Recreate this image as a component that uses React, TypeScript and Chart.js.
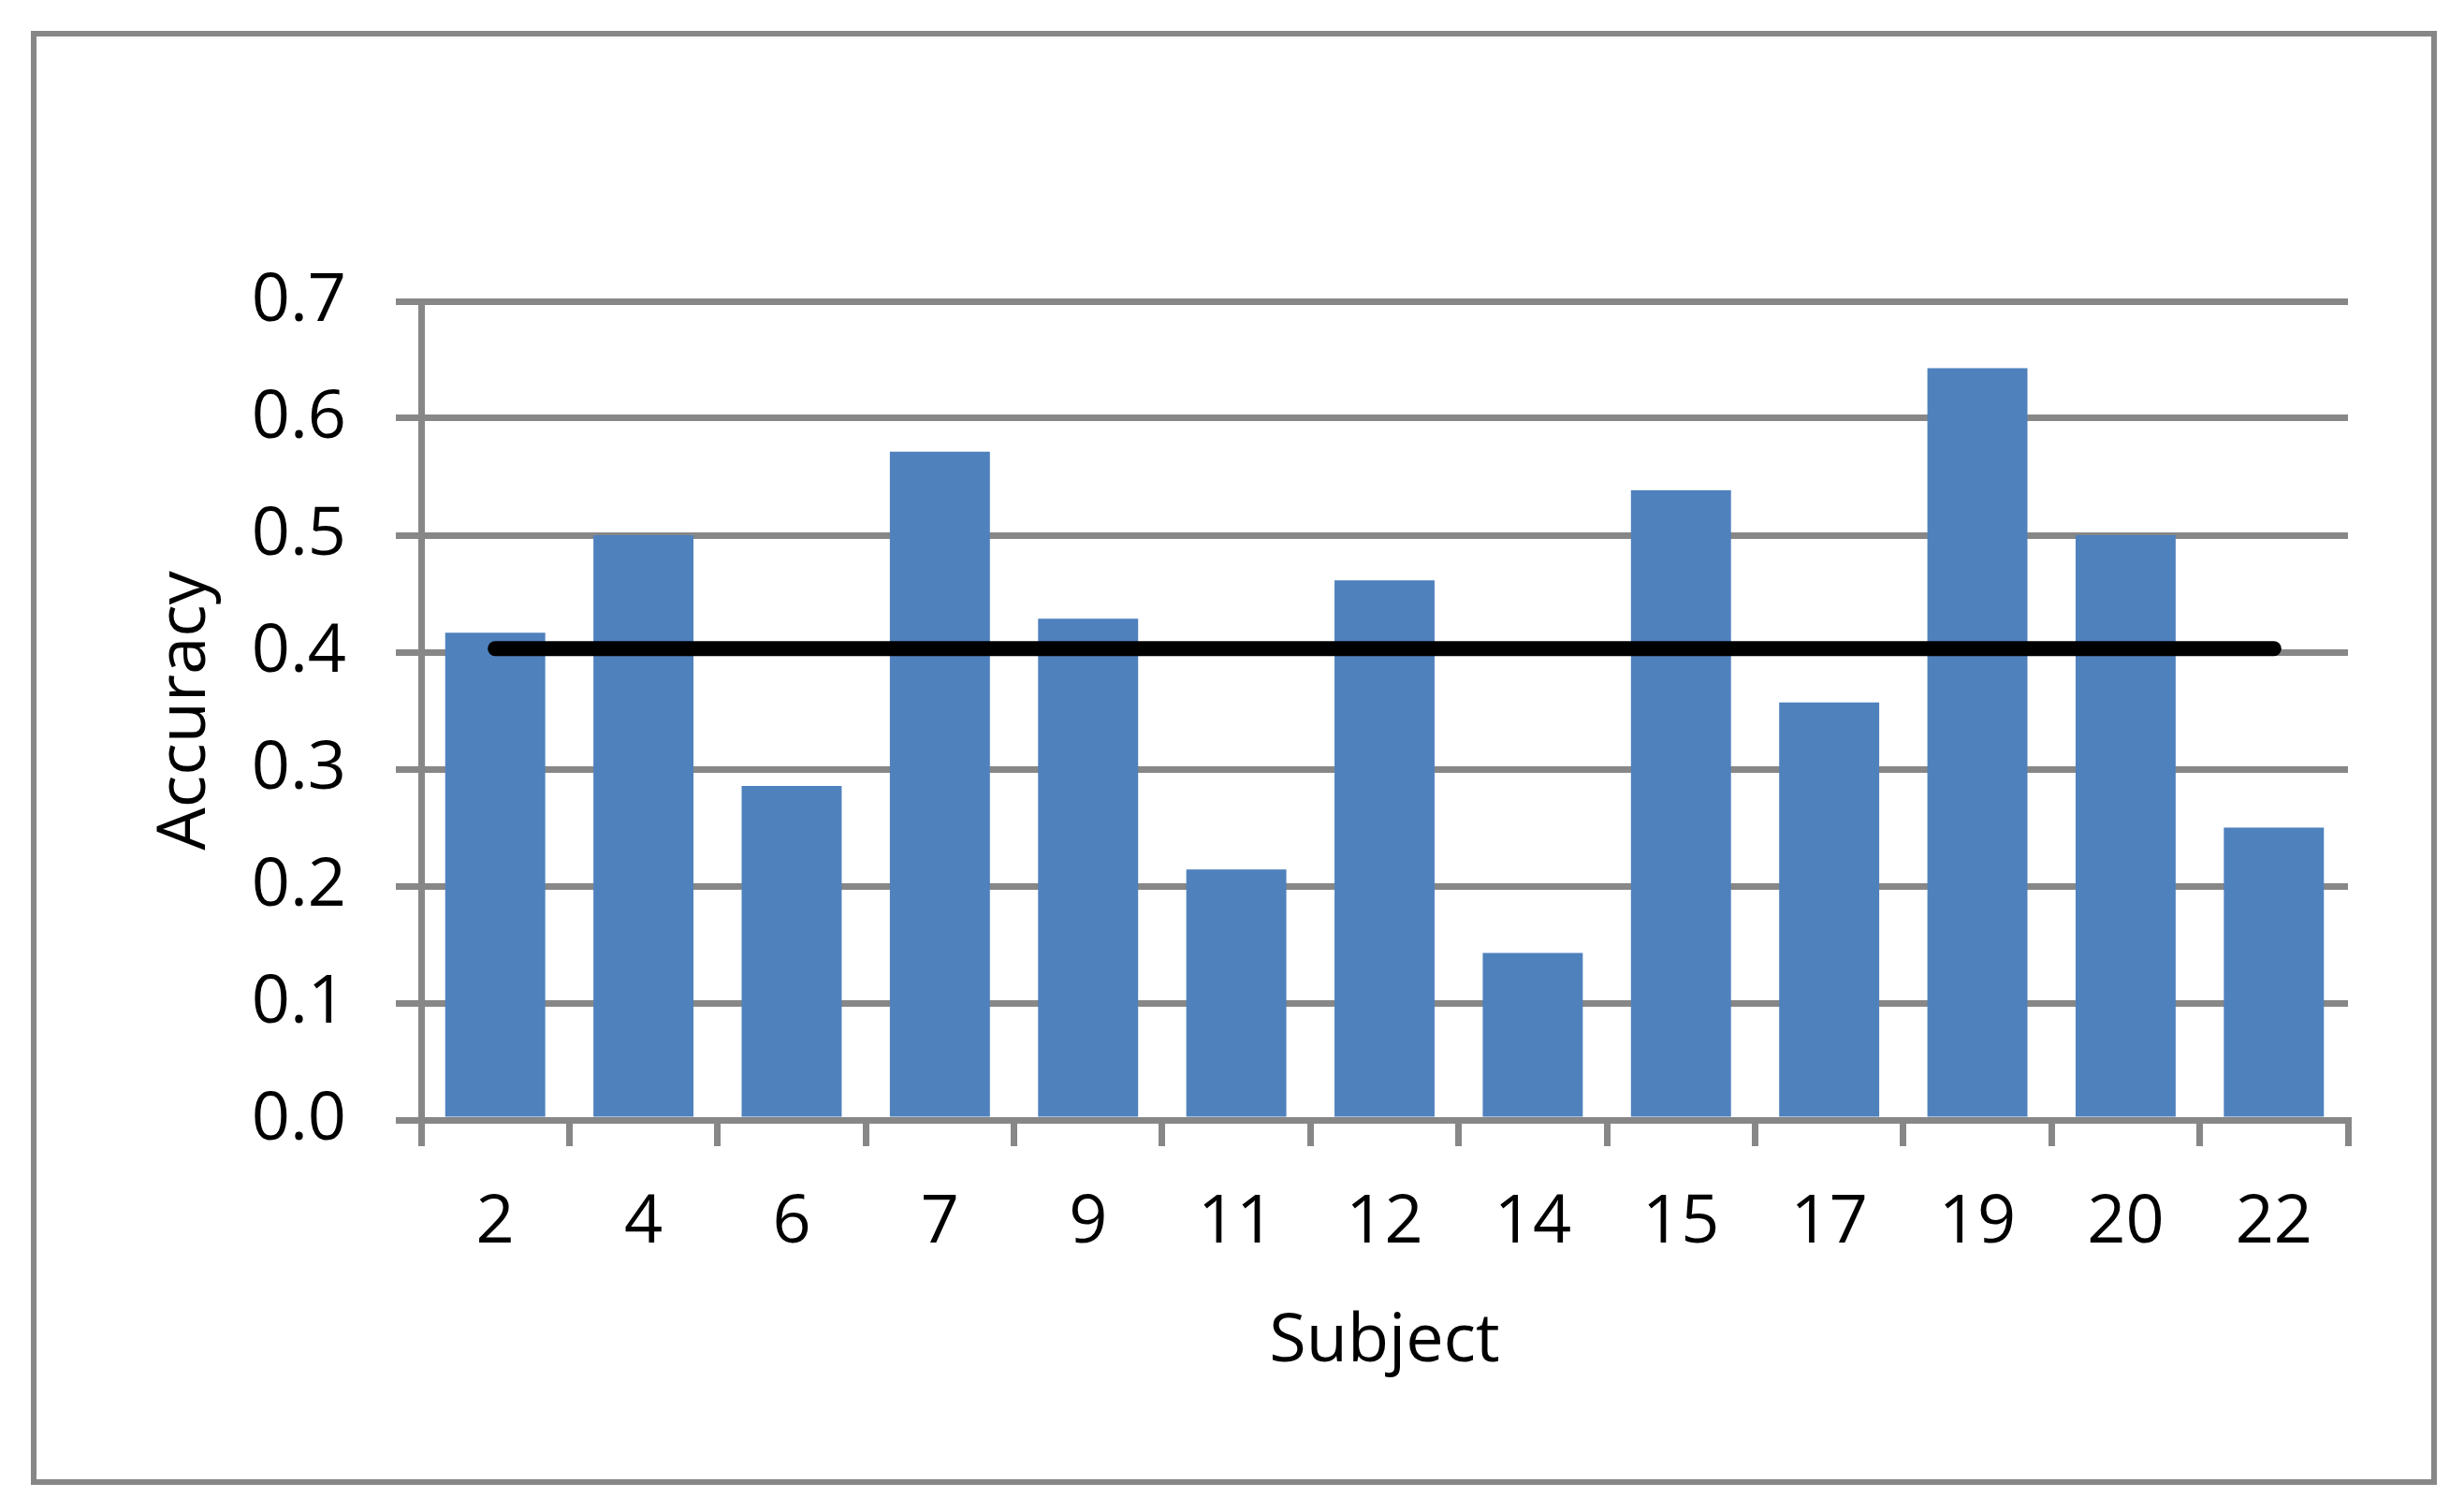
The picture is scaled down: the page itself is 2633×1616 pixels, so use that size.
import React, { useEffect, useRef } from "react";
import { Chart, registerables } from "chart.js";

Chart.register(...registerables);

const subjects = ["2", "4", "6", "7", "9", "11", "12", "14", "15", "17", "19", "20", "22"];
const accuracy = [0.4167, 0.5, 0.2857, 0.5714, 0.4286, 0.2143, 0.4615, 0.1429, 0.5385, 0.357, 0.6429, 0.5, 0.25];
const meanLine = [0.403, 0.403, 0.403, 0.403, 0.403, 0.403, 0.403, 0.403, 0.403, 0.403, 0.403, 0.403, 0.403];

const W = 2633;
const H = 1616;
const GRAY = "#878787";
const FONT = "'Open Sans'";

export default function App() {
  const ref = useRef<HTMLCanvasElement | null>(null);

  useEffect(() => {
    if (!ref.current) return;
    const chart = new Chart(ref.current, {
      type: "bar",
      data: {
        labels: subjects,
        datasets: [
          {
            type: "line",
            label: "Mean",
            data: meanLine,
            borderColor: "#000000",
            borderWidth: 16,
            borderCapStyle: "round",
            pointRadius: 0,
            fill: false,
            order: 0,
          } as any,
          {
            type: "bar",
            label: "Accuracy",
            data: accuracy,
            backgroundColor: "#4F81BD",
            borderWidth: 0,
            barPercentage: 0.675,
            categoryPercentage: 1,
            order: 1,
          },
        ],
      },
      options: {
        responsive: false,
        animation: false,
        layout: { padding: { top: 322, right: 124, left: 0, bottom: 0 } },
        plugins: {
          legend: { display: false },
          tooltip: { enabled: false },
        },
        scales: {
          x: {
            offset: true,
            grid: {
              display: true,
              offset: true,
              drawOnChartArea: false,
              drawTicks: true,
              tickLength: 28,
              color: GRAY,
              lineWidth: 7,
            },
            border: { display: true, color: GRAY, width: 7 },
            ticks: {
              color: "#000000",
              padding: 39,
              font: { family: FONT, size: 72, lineHeight: 1.2 },
              maxRotation: 0,
              autoSkip: false,
            },
            title: {
              display: true,
              text: "Subject",
              color: "#000000",
              font: { family: FONT, size: 72, lineHeight: 1.2 },
              padding: { top: 0, bottom: 138 },
            },
            afterFit: (scale: any) => {
              scale.height = 419;
            },
          },
          y: {
            min: 0,
            max: 0.7,
            grid: {
              color: GRAY,
              lineWidth: 7,
              drawTicks: true,
              tickLength: 27,
            },
            border: { display: true, color: GRAY, width: 7 },
            ticks: {
              stepSize: 0.1,
              color: "#000000",
              padding: 53,
              font: { family: FONT, size: 72, lineHeight: 1.2 },
              callback: (v: any) => Number(v).toFixed(1),
            },
            title: {
              display: true,
              text: "Accuracy",
              color: "#000000",
              font: { family: FONT, size: 72, lineHeight: 1.2 },
              padding: { top: 155, bottom: 0 },
            },
            afterFit: (scale: any) => {
              scale.width = 450;
            },
          },
        },
      },
    });
    return () => chart.destroy();
  }, []);

  return (
    <div style={{ position: "fixed", left: 0, top: 0, width: W, height: H, background: "#ffffff" }}>
      <canvas ref={ref} width={W} height={H} style={{ display: "block", width: W, height: H }} />
      <div
        style={{
          position: "absolute",
          left: 33,
          top: 33,
          width: 2571,
          height: 1554,
          border: `6px solid ${GRAY}`,
          boxSizing: "border-box",
          pointerEvents: "none",
        }}
      />
    </div>
  );
}
